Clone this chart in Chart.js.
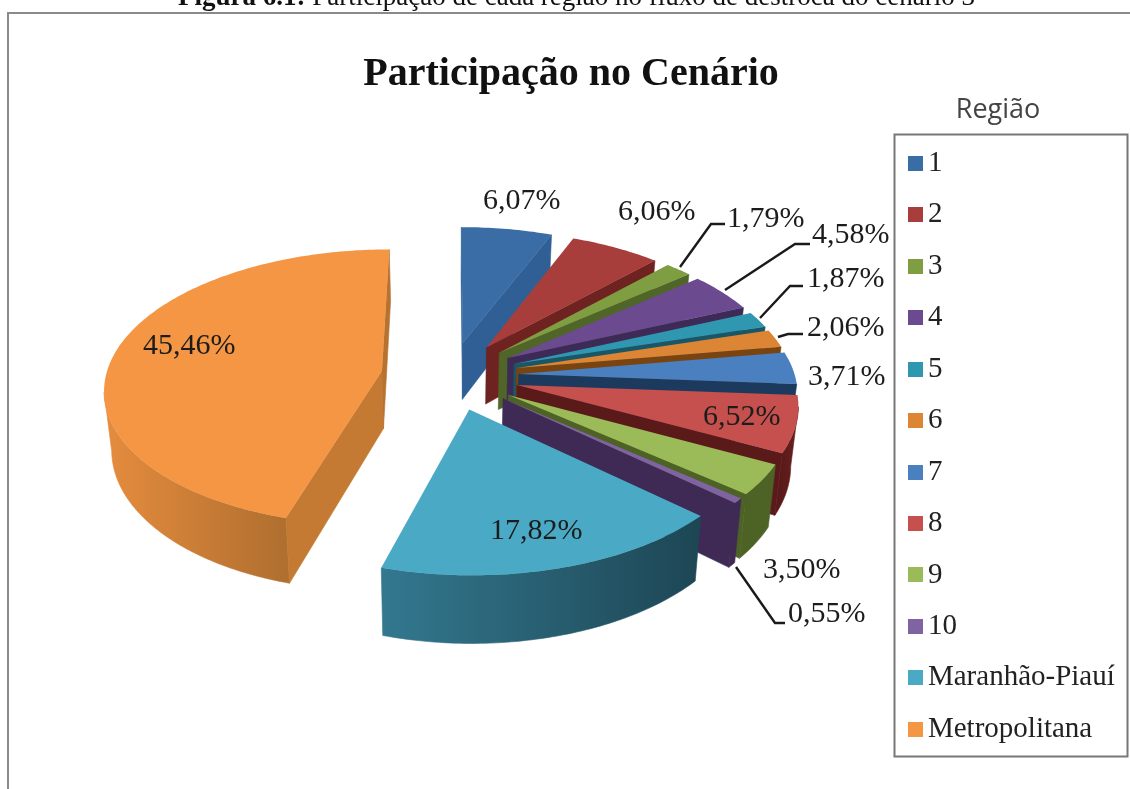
<!DOCTYPE html>
<html lang="pt">
<head>
<meta charset="utf-8">
<title>Participação no Cenário</title>
<script src="https://cdn.jsdelivr.net/npm/chart.js@4"></script>
<style>
  html, body { margin: 0; padding: 0; background: #fff; width: 1130px; height: 789px; overflow: hidden; }
  #caption { position: absolute; left: 178px; top: -18px; width: 960px; font: 27px/28px "Liberation Serif", serif; color: #111; white-space: nowrap; }
  #frame { position: absolute; left: 7px; top: 12px; width: 1130px; height: 800px; border-left: 2px solid #8a8a8a; border-top: 2px solid #8a8a8a; box-sizing: border-box; }
  #wrap { position: absolute; left: 0; top: 0; width: 1130px; height: 789px; filter: blur(0.4px); }
  canvas { display: block; }
</style>
</head>
<body>
<div id="wrap"><canvas id="c" width="1130" height="789"></canvas></div>
<div id="frame"></div>
<div id="caption"><b>Figura 6.1:</b> Participação de cada região no fluxo de destroca do cenário 3</div>
<script>
// ---- data ----
const categories = ['1','2','3','4','5','6','7','8','9','10','Maranhão-Piauí','Metropolitana'];
const shares = [6.07, 6.06, 1.79, 4.58, 1.87, 2.06, 3.71, 6.52, 3.50, 0.55, 17.82, 45.46];

// ---- styles ----
const topColors  = ['#3a6ca5','#a83e3b','#7f9e42','#6b4a90','#2f97b0','#dc8534','#4a7fc0','#c5504d','#9bbb59','#8064a2','#4aaac6','#f59645'];
const endWall    = ['#2f5f95','#6f2321','#4f6628','#3e2a57','#1a5666','#7a4410','#1c3a5e','#5b1a1a','#4d6326','#3e2a55','#1e4a58','#b8722f'];
const startWall  = ['#2f5f95','#6f2321','#4f6628','#3e2a57','#1a5666','#7a4410','#1c3a5e','#5b1a1a','#4d6326','#3e2a55','#1e4a58','#c47a32'];
const outerLeft  = ['#2f5f95','#6f2321','#4f6628','#3e2a57','#1a5666','#7a4410','#1c3a5e','#5b1a1a','#4d6326','#3e2a55','#33788f','#e58c3e'];
const outerRight = ['#2f5f95','#6f2321','#4f6628','#3e2a57','#1a5666','#7a4410','#1c3a5e','#6a2020','#4d6326','#3e2a55','#1d4654','#b06f2f'];

// label anchors (left, baseline) and leader lines for the percentage texts
const labelLeft = [483, 618, 727, 812, 807, 807, 808, 703, 763, 788, 490, 143];
const labelBase = [209, 220, 227, 243, 287, 336, 385, 425, 578, 622, 539, 354];
const leaders = {
  2: [[680,267],[711,224],[725,224]],
  3: [[725,290],[795,244],[810,244]],
  4: [[760,318],[790,286],[803,286]],
  5: [[778,337],[788,334],[803,334]],
  9: [[736,567],[775,623],[785,623]]
};

// view of the tilted, exploded pie
const view = { cx: 450, cy: 375.6, sx: 276, sy: 137, persp: 0.12, explode: 0.25, depth: 58, conv: 0.022 };

function project(X, Y, low) {
  const w = 1 + view.persp * Y;
  let x = view.cx + view.sx * X / w;
  let y = view.cy - view.sy * Y / w;
  if (low) { x -= view.conv * (x - view.cx); y += view.depth / w; }
  return [x, y];
}

function poly(ctx, pts, color) {
  ctx.beginPath();
  pts.forEach((p,i)=> i ? ctx.lineTo(p[0],p[1]) : ctx.moveTo(p[0],p[1]));
  ctx.closePath();
  ctx.fillStyle = color; ctx.strokeStyle = color; ctx.lineWidth = 0.6;
  ctx.fill(); ctx.stroke();
}

function drawSlice(ctx, arc, i) {
  const a = arc.startAngle, b = arc.endAngle, mid = (a + b) / 2, r = arc.outerRadius;
  const ex = view.explode * Math.cos(mid), ey = -view.explode * Math.sin(mid);
  const at = (ang, rad, low) => project(ex + rad * Math.cos(ang), ey - rad * Math.sin(ang), low);

  // rim: only the run of the arc that turns towards the viewer
  const steps = Math.max(6, Math.ceil((b - a) * 60));
  const upper = [], lower = [];
  for (let s = 0; s < steps; s++) {
    const a0 = a + (b - a) * s / steps, a1 = a + (b - a) * (s + 1) / steps;
    const p0 = at(a0, 1, false), p1 = at(a1, 1, false);
    if (p1[0] < p0[0]) {
      if (!upper.length) { upper.push(p0); lower.push(at(a0, 1, true)); }
      upper.push(p1); lower.push(at(a1, 1, true));
    }
  }
  if (upper.length > 1) {
    const g = ctx.createLinearGradient(upper[0][0], 0, upper[upper.length - 1][0], 0);
    g.addColorStop(0, outerRight[i]);
    g.addColorStop(1, outerLeft[i]);
    poly(ctx, upper.concat(lower.reverse()), g);
  }

  // radial walls, only where they face the viewer
  const apexT = at(a, 0, false), apexB = at(a, 0, true);
  const sT = at(a, 1, false), sB = at(a, 1, true), eT = at(b, 1, false), eB = at(b, 1, true);
  if (sT[0] - apexT[0] < 0) poly(ctx, [apexT, sT, sB, apexB], startWall[i]);
  if (eT[0] - apexT[0] > 0) poly(ctx, [apexT, eT, eB, apexB], endWall[i]);

  // top face: the library's own arc, drawn through the projection
  const map = (px, py) => project(ex + (px - arc.x) / r, ey - (py - arc.y) / r, false);
  const custom = {
    translate() {},
    moveTo(x, y) { const p = map(x, y); ctx.moveTo(p[0], p[1]); },
    lineTo(x, y) { const p = map(x, y); ctx.lineTo(p[0], p[1]); },
    arc(x, y, rad, s, e, ccw) {
      const n = Math.max(2, Math.ceil(Math.abs(e - s) * 60));
      for (let k = 0; k <= n; k++) {
        const t = s + (e - s) * k / n;
        const p = map(x + rad * Math.cos(t), y + rad * Math.sin(t));
        ctx.lineTo(p[0], p[1]);
      }
    }
  };
  const proxy = new Proxy(ctx, {
    get(t, k) { if (k in custom) return custom[k]; const v = t[k]; return typeof v === 'function' ? v.bind(t) : v; },
    set(t, k, v) { t[k] = v; return true; }
  });
  arc.draw(proxy);
}

const legendIcons = topColors.map(col => {
  const c = document.createElement('canvas');
  c.width = 24; c.height = 15;
  const x = c.getContext('2d');
  x.fillStyle = col; x.fillRect(9, 0, 15, 15);
  return c;
});

const pie3d = {
  id: 'pie3d',
  afterLayout(chart) {
    const lg = chart.legend;
    lg.left = 886; lg.right = 1130; lg.width = 224; lg.top = 93; lg.bottom = 789; lg.height = 696;
    const tb = chart.titleBlock;
    tb.left = 6; tb.right = 1136; tb.top = 0;
  },
  beforeDatasetsDraw(chart) {
    const ctx = chart.ctx, arcs = chart.getDatasetMeta(0).data;
    // legend frame
    ctx.save();
    ctx.strokeStyle = '#777'; ctx.lineWidth = 2;
    ctx.strokeRect(894.5, 134.5, 233, 622);
    ctx.restore();

    ctx.save();
    // farthest first: Metropolitana, then clockwise to Maranhão-Piauí
    [11,0,1,2,3,4,5,6,7,8,9,10].forEach(i => { ctx.save(); drawSlice(ctx, arcs[i], i); ctx.restore(); });
    ctx.restore();

    // leader lines
    ctx.save();
    ctx.strokeStyle = '#1a1a1a'; ctx.lineWidth = 2.4; ctx.lineJoin = 'miter';
    Object.values(leaders).forEach(pts => {
      ctx.beginPath();
      pts.forEach((p,k)=> k ? ctx.lineTo(p[0],p[1]) : ctx.moveTo(p[0],p[1]));
      ctx.stroke();
    });
    // percentages
    ctx.font = '30px "Liberation Serif", serif';
    ctx.fillStyle = '#1c1c1c'; ctx.textAlign = 'left'; ctx.textBaseline = 'alphabetic';
    shares.forEach((v,i) => ctx.fillText(v.toFixed(2).replace('.', ',') + '%', labelLeft[i], labelBase[i]));
    ctx.restore();
    return false;
  }
};

new Chart(document.getElementById('c'), {
  type: 'pie',
  data: {
    labels: categories,
    datasets: [{ data: shares, backgroundColor: topColors, borderWidth: 0 }]
  },
  plugins: [pie3d],
  options: {
    responsive: false,
    animation: false,
    layout: { padding: 0 },
    plugins: {
      tooltip: { enabled: false },
      title: {
        display: true,
        text: 'Participação no Cenário',
        color: '#111',
        font: { family: '"Liberation Serif", serif', size: 40, weight: 'bold' },
        padding: { top: 51, bottom: 0 }
      },
      legend: {
        display: true,
        position: 'right',
        align: 'start',
        title: {
          display: true,
          text: 'Região',
          color: '#444',
          font: { family: '"Open Sans", sans-serif', size: 27, lineHeight: 1.09 },
          padding: { top: 4, bottom: 0 }
        },
        labels: {
          color: '#222',
          font: { family: '"Liberation Serif", serif', size: 29 },
          usePointStyle: true,
          pointStyleWidth: 5,
          boxWidth: 5,
          boxHeight: 15,
          padding: 22.45,
          generateLabels(chart) {
            return chart.data.labels.map((text, i) => ({
              text, fontColor: '#222', fillStyle: topColors[i], strokeStyle: topColors[i],
              lineWidth: 0, pointStyle: legendIcons[i], hidden: false, index: i
            }));
          }
        }
      }
    }
  }
});
</script>
</body>
</html>
